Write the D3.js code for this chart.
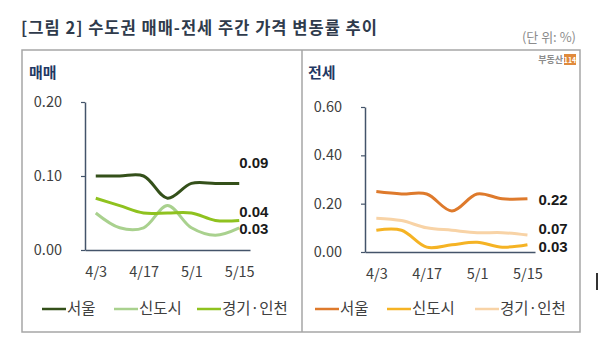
<!DOCTYPE html>
<html>
<head>
<meta charset="utf-8">
<script src="https://cdn.jsdelivr.net/npm/d3@7"></script>
<style>
  body { margin: 0; background: #fff; }
  svg { display: block; font-family: "Noto Sans CJK KR", "Noto Sans", sans-serif; }
</style>
</head>
<body>
<svg id="chart" width="600" height="354"></svg>
<script>
// weekly dates, only every other one gets a label
const weeks = ["4/3", "4/10", "4/17", "4/24", "5/1", "5/8", "5/15"];
const weekLabels = ["4/3", "4/17", "5/1", "5/15"];
const seriesNames = ["서울", "신도시", "경기·인천"];

// 매매 (sale)
const saleSeoul = [0.10, 0.10, 0.10, 0.07, 0.09, 0.09, 0.09];
const saleNewTown = [0.05, 0.03, 0.03, 0.06, 0.03, 0.02, 0.03];
const saleGyeonggi = [0.07, 0.06, 0.05, 0.05, 0.05, 0.04, 0.04];
const saleTicks = [0, 0.10, 0.20];

// 전세 (jeonse)
const rentSeoul = [0.25, 0.24, 0.24, 0.17, 0.24, 0.22, 0.22];
const rentNewTown = [0.09, 0.09, 0.02, 0.03, 0.04, 0.02, 0.03];
const rentGyeonggi = [0.14, 0.13, 0.10, 0.09, 0.08, 0.08, 0.07];
const rentTicks = [0, 0.20, 0.40, 0.60];

const svg = d3.select("#chart");

// title + unit
svg.append("text")
    .attr("x", 21).attr("y", 34)
    .attr("fill", "#2f3b4c")
    .attr("font-size", "16.5px")
    .attr("font-weight", "bold")
    .attr("textLength", 356)
    .attr("lengthAdjust", "spacing")
    .text("[그림 2] 수도권 매매-전세 주간 가격 변동률 추이");

svg.append("text")
    .attr("x", 576).attr("y", 42)
    .attr("text-anchor", "end")
    .attr("fill", "#8c8c8c")
    .attr("font-size", "13px")
    .text("(단 위: %)");

// outer box and divider
svg.append("rect")
    .attr("x", 22).attr("y", 50)
    .attr("width", 558).attr("height", 282)
    .attr("fill", "none")
    .attr("stroke", "#a6a6a6")
    .attr("stroke-width", 1.5);
svg.append("line")
    .attr("x1", 302).attr("x2", 302)
    .attr("y1", 50).attr("y2", 332)
    .attr("stroke", "#a6a6a6")
    .attr("stroke-width", 1.5);

// logo
svg.append("text")
    .attr("x", 563).attr("y", 63)
    .attr("text-anchor", "end")
    .attr("fill", "#8c8c8c")
    .attr("font-size", "9px")
    .attr("font-weight", "bold")
    .text("부동산");
svg.append("rect")
    .attr("x", 564).attr("y", 54)
    .attr("width", 12).attr("height", 11)
    .attr("fill", "#e08a3c");
svg.append("text")
    .attr("x", 570).attr("y", 62.5)
    .attr("text-anchor", "middle")
    .attr("fill", "#fff")
    .attr("font-size", "7px")
    .attr("font-weight", "bold")
    .text("114");

// stray mark at the right edge of the source image
svg.append("rect")
    .attr("x", 596).attr("y", 273)
    .attr("width", 2).attr("height", 17)
    .attr("fill", "#333");

function drawPanel(cfg) {
    const x = d3.scaleLinear().domain(cfg.xDomain).range(cfg.xRange);
    const y = d3.scaleLinear().domain([0, cfg.yMax]).range(cfg.yRange);
    const g = svg.append("g");

    g.append("text")
        .attr("x", cfg.titleX).attr("y", 78)
        .attr("fill", "#1f3864")
        .attr("font-size", "15px")
        .attr("font-weight", "bold")
        .text(cfg.title);

    // y axis
    const yAxis = g.append("g")
        .attr("transform", `translate(${cfg.xRange[0]},0)`)
        .call(d3.axisLeft(y).tickValues(cfg.ticks).tickFormat(d3.format(".2f")).tickSize(4).tickSizeOuter(0));
    yAxis.select(".domain").attr("stroke", "#44546a").attr("stroke-width", 1.5);
    yAxis.selectAll(".tick line").attr("stroke", "#44546a").attr("stroke-width", 1.2);
    yAxis.selectAll(".tick text")
        .attr("x", cfg.tickTextX - cfg.xRange[0])
        .attr("fill", "#404040")
        .style("font-size", "14.5px")
        .style("font-family", "'Noto Sans CJK KR', sans-serif");

    // x axis
    const xAxis = g.append("g")
        .attr("transform", `translate(0,${cfg.yRange[0]})`)
        .call(d3.axisBottom(x)
            .tickValues(weekLabels.map(l => weeks.indexOf(l)))
            .tickFormat(i => weeks[i])
            .tickSize(0).tickSizeOuter(0).tickPadding(17));
    xAxis.select(".domain").attr("stroke", "#44546a").attr("stroke-width", 1.5);
    xAxis.selectAll(".tick text")
        .attr("fill", "#404040")
        .style("font-size", "14.5px")
        .style("font-family", "'Noto Sans CJK KR', sans-serif");

    const line = d3.line()
        .x((d, i) => x(i))
        .y(d => y(d))
        .curve(d3.curveCatmullRom.alpha(0.5));

    cfg.series.forEach((s, k) => {
        g.append("path")
            .attr("d", line(s))
            .attr("fill", "none")
            .attr("stroke", cfg.colors[k])
            .attr("stroke-width", 3);

        // end-of-line value label
        const last = s[s.length - 1];
        g.append("text")
            .attr("x", x(s.length - 1) + cfg.labelDx)
            .attr("y", y(last) + cfg.labelDy[k])
            .attr("dy", "0.35em")
            .attr("fill", "#1a1a1a")
            .attr("font-family", "'Liberation Sans', Arial, sans-serif")
            .attr("font-size", "15px")
            .attr("font-weight", "bold")
            .text(last.toFixed(2));

        // legend
        const lx = cfg.legendX[k];
        g.append("line")
            .attr("x1", lx).attr("x2", lx + 24)
            .attr("y1", 309).attr("y2", 309)
            .attr("stroke", cfg.colors[k])
            .attr("stroke-width", 2.5);
        g.append("text")
            .attr("x", lx + 25).attr("y", 309)
            .attr("dy", "0.35em")
            .attr("fill", "#404040")
            .attr("font-size", "15.5px")
            .text(seriesNames[k]);
    });
}

drawPanel({
    title: "매매",
    titleX: 29,
    series: [saleSeoul, saleNewTown, saleGyeonggi],
    colors: ["#34501a", "#a9d18e", "#8fc21f"],
    ticks: saleTicks,
    yMax: 0.20,
    yRange: [250, 102],
    xDomain: [-0.45, 6.45],
    xRange: [85, 250],
    tickTextX: 62,
    labelDx: 0,
    labelDy: [-21, 1, -9],
    legendX: [42, 114, 197]
});

drawPanel({
    title: "전세",
    titleX: 308,
    series: [rentSeoul, rentNewTown, rentGyeonggi],
    colors: ["#de7a2c", "#f5b324", "#f8d3a6"],
    ticks: rentTicks,
    yMax: 0.60,
    yRange: [252, 107],
    xDomain: [-0.45, 6.3],
    xRange: [365, 535],
    tickTextX: 342,
    labelDx: 11,
    labelDy: [1, 2, -6],
    legendX: [315, 387, 475]
});
</script>
</body>
</html>
